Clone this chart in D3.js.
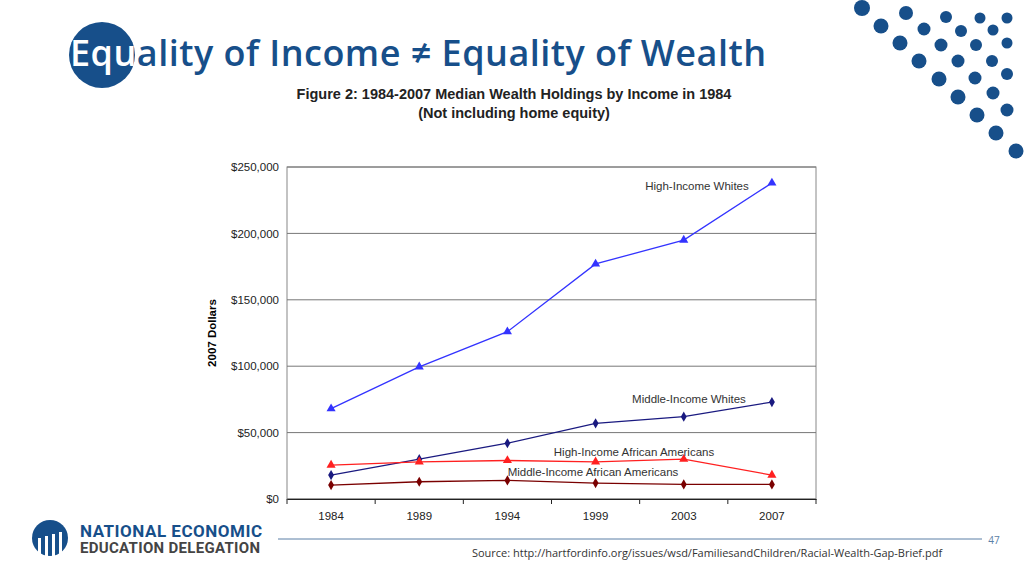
<!DOCTYPE html>
<html><head><meta charset="utf-8">
<script src="https://cdn.jsdelivr.net/npm/d3@7"></script>
<style>body{margin:0;background:#fff}svg{display:block}</style>
</head><body><svg id="c"></svg>
<script>
const years = ["1984", "1989", "1994", "1999", "2003", "2007"];
const yTicks = [0, 50000, 100000, 150000, 200000, 250000];
const highWhites = [68000, 99500, 126000, 177000, 195000, 238000];
const midWhites = [18000, 30000, 42000, 57000, 62000, 73000];
const highAA = [25500, 28000, 29000, 28000, 30000, 18000];
const midAA = [10500, 13000, 14000, 12000, 11000, 11000];

// decorative dot pattern, top right
const dots = [
  [862,8,8],[881,26,7.5],[900,43,7.5],[919,61,7.5],[939,79,7.5],[958,97,7.5],[977,115,7.5],[996,133,7.5],[1016,151,7.5],
  [906,13,7],[924,29,6.5],[941,45,6.5],[958,61,6.5],[975,78,6.5],[993,93,6.5],[1007,110,6.5],
  [946,17,6],[961,31,6],[976,45,6],[992,61,6],[1007,74,6],
  [980,18,5.5],[993,30,5.5],[1007,43,5.5],[1007,18,5.5]
];

const svg = d3.select("svg#c").attr("width", 1024).attr("height", 576);
const blue = "#174f8a";

svg.selectAll("circle.dot").data(dots).enter().append("circle")
  .attr("class", "dot").attr("cx", d => d[0]).attr("cy", d => d[1]).attr("r", d => d[2]).attr("fill", blue);

// title
svg.append("circle").attr("cx", 102).attr("cy", 55).attr("r", 33).attr("fill", blue);
const t = svg.append("text").attr("x", 70).attr("y", 66).attr("textLength", 696)
  .style("font-family", "Open Sans, Noto Sans, sans-serif").style("font-size", "36px").style("font-weight", 600);
t.append("tspan").attr("fill", "#fff").text("Equ");
t.append("tspan").attr("fill", blue).text("ality of Income ≠ Equality of Wealth");

const hel = "Liberation Sans, Arial, sans-serif";
svg.append("text").attr("x", 514).attr("y", 99).attr("text-anchor", "middle")
  .style("font-family", hel).style("font-size", "14.5px").style("font-weight", "bold").attr("fill", "#222")
  .text("Figure 2: 1984-2007 Median Wealth Holdings by Income  in 1984");
svg.append("text").attr("x", 514).attr("y", 118).attr("text-anchor", "middle")
  .style("font-family", hel).style("font-size", "14.5px").style("font-weight", "bold").attr("fill", "#222")
  .text("(Not including home equity)");

const x0 = 287, x1 = 816, yTop = 167, yBot = 499;
const x = d3.scaleBand().domain(years).range([x0, x1]);
const y = d3.scaleLinear().domain([0, 250000]).range([yBot, yTop]);

const g = svg.append("g");
g.append("rect").attr("x", x0).attr("y", yTop).attr("width", x1 - x0).attr("height", yBot - yTop)
  .attr("fill", "none").attr("stroke", "#888");
g.selectAll("line.grid").data(yTicks).enter().append("line").attr("class", "grid")
  .attr("x1", x0).attr("x2", x1).attr("y1", d => y(d)).attr("y2", d => y(d)).attr("stroke", "#777");

const ya = g.append("g").attr("transform", `translate(${x0},0)`)
  .call(d3.axisLeft(y).tickValues(yTicks).tickSize(0).tickPadding(8).tickFormat(d => "$" + d3.format(",")(d)));
ya.select(".domain").remove();
ya.selectAll("text").style("font-family", hel).style("font-size", "11.5px").attr("fill", "#222");

const xa = g.append("g").attr("transform", `translate(0,${yBot})`)
  .call(d3.axisBottom(x).tickSizeInner(0).tickSizeOuter(0).tickPadding(13));
xa.select(".domain").attr("stroke", "#222");
xa.selectAll("text").style("font-family", hel).style("font-size", "11.5px").attr("fill", "#222");
xa.selectAll("line.sep").data(years.concat(["end"])).enter().append("line").attr("class", "sep")
  .attr("x1", (d, i) => x0 + i * x.bandwidth()).attr("x2", (d, i) => x0 + i * x.bandwidth())
  .attr("y1", 0).attr("y2", 5).attr("stroke", "#222");

svg.append("text").attr("transform", "translate(216,333) rotate(-90)").attr("text-anchor", "middle")
  .style("font-family", hel).style("font-size", "11.5px").style("font-weight", "bold").text("2007 Dollars");

const cx = (d, i) => x(years[i]) + x.bandwidth() / 2;
const series = [
  { vals: highWhites, color: "#3333ff", marker: "tri", label: "High-Income Whites", lx: 697, ly: 190 },
  { vals: midWhites, color: "#1a1a80", marker: "dia", label: "Middle-Income Whites", lx: 689, ly: 403 },
  { vals: highAA, color: "#ff2020", marker: "tri", label: "High-Income African Americans", lx: 634, ly: 456 },
  { vals: midAA, color: "#7a0000", marker: "dia", label: "Middle-Income African Americans", lx: 593, ly: 476 }
];
const line = d3.line().x(cx).y(d => y(d));
series.forEach(s => {
  g.append("path").attr("d", line(s.vals)).attr("fill", "none").attr("stroke", s.color).attr("stroke-width", 1.3);
  g.selectAll(null).data(s.vals).enter().append("path")
    .attr("transform", (d, i) => `translate(${cx(d, i)},${y(d)})`)
    .attr("d", d3.symbol().type(s.marker === "tri" ? d3.symbolTriangle : d3.symbolDiamond).size(s.marker === "tri" ? 36 : 30))
    .attr("fill", s.color);
  g.append("text").attr("x", s.lx).attr("y", s.ly).attr("text-anchor", "middle")
    .style("font-family", hel).style("font-size", "11.5px").attr("fill", "#333").text(s.label);
});

// footer
svg.append("line").attr("x1", 278).attr("x2", 982).attr("y1", 539).attr("y2", 539).attr("stroke", "#5b7fa6");
svg.append("text").attr("x", 994).attr("y", 544).attr("text-anchor", "middle")
  .style("font-family", "Open Sans, sans-serif").style("font-size", "10px").attr("fill", "#5b7fa6").text("47");
svg.append("text").attr("x", 707).attr("y", 557).attr("text-anchor", "middle")
  .style("font-family", "Open Sans, sans-serif").style("font-size", "11px").attr("fill", "#333")
  .text("Source: http://hartfordinfo.org/issues/wsd/FamiliesandChildren/Racial-Wealth-Gap-Brief.pdf");

// logo
svg.append("circle").attr("cx", 50).attr("cy", 538).attr("r", 18).attr("fill", blue);
[38, 45, 52, 59].forEach((lx, i) => svg.append("rect").attr("x", lx).attr("y", 538 - i * 2).attr("width", 3)
  .attr("height", 18 + i * 2).attr("fill", "#fff"));
svg.append("text").attr("x", 80).attr("y", 537).attr("textLength", 182).style("font-family", "Roboto, sans-serif").style("font-weight", "bold")
  .style("font-size", "17px").attr("fill", blue).text("NATIONAL ECONOMIC");
svg.append("text").attr("x", 80).attr("y", 553).attr("textLength", 180).style("font-family", "Roboto, sans-serif").style("font-weight", "bold")
  .style("font-size", "15px").attr("fill", "#444").text("EDUCATION DELEGATION");
</script></body></html>
